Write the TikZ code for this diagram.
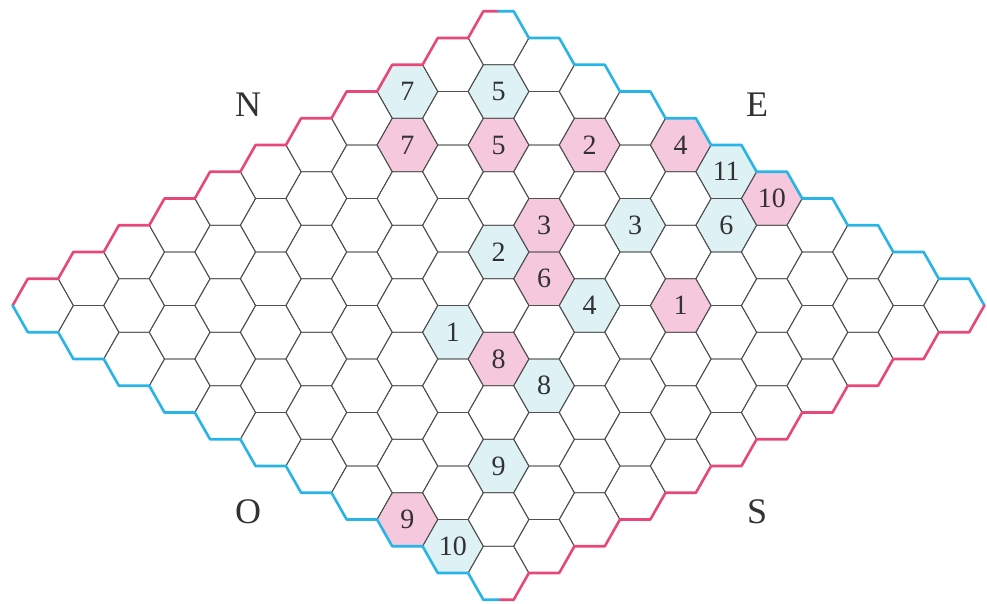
\documentclass[tikz,border=0pt]{standalone}
\usepackage{fontspec}
\setmainfont{Liberation Serif}
\definecolor{pinkB}{RGB}{232,72,120}
\definecolor{blueB}{RGB}{40,180,230}
\definecolor{pinkF}{RGB}{246,200,222}
\definecolor{blueF}{RGB}{222,242,245}
\definecolor{gridC}{RGB}{80,80,80}
\definecolor{txtC}{RGB}{50,50,50}
\begin{document}
\begin{tikzpicture}[x=1pt,y=-1pt,
  gridline/.style={draw=gridC,line width=0.9pt,line join=round},
  pinkedge/.style={draw=pinkB,line width=2.6pt,line join=round,line cap=round},
  blueedge/.style={draw=blueB,line width=2.6pt,line join=round,line cap=round},
  numlab/.style={text=txtC,font=\fontsize{28}{28}\selectfont,inner sep=0pt},
  sidelab/.style={text=txtC,font=\fontsize{36}{36}\selectfont,inner sep=0pt}]
\useasboundingbox (0,0) rectangle (987,604);
% coloured cells (s = i+j, d = j-i)
\foreach \s/\d/\c/\t [count=\k] in {
  8/-8/blueF/7, 10/-8/blueF/5, 15/-5/blueF/11, 15/-3/blueF/6, 13/-3/blueF/3,
  10/-2/blueF/2, 12/0/blueF/4, 9/1/blueF/1, 11/3/blueF/8, 10/6/blueF/9, 9/9/blueF/10,
  8/-6/pinkF/7, 10/-6/pinkF/5, 12/-6/pinkF/2, 14/-6/pinkF/4, 16/-4/pinkF/10,
  11/-3/pinkF/3, 11/-1/pinkF/6, 14/0/pinkF/1, 10/2/pinkF/8, 8/8/pinkF/9}{
  \pgfmathsetmacro\cx{43+45.55*\s}
  \pgfmathsetmacro\cy{305.5+26.75*\d}
  \fill[\c,shift={(\cx,\cy)}] (30.37,0) -- (15.18,-26.75) -- (-15.18,-26.75)
     -- (-30.37,0) -- (-15.18,26.75) -- (15.18,26.75) -- cycle;
  \node[numlab] (lab\k) at (\cx,\cy) {\t};
}
% grid
\foreach \i in {0,...,10}{
  \foreach \j in {0,...,10}{
    \pgfmathsetmacro\cx{43+45.55*(\i+\j)}
    \pgfmathsetmacro\cy{305.5+26.75*(\j-\i)}
    \draw[gridline,shift={(\cx,\cy)}] (30.37,0) -- (15.18,-26.75) -- (-15.18,-26.75)
       -- (-30.37,0) -- (-15.18,26.75) -- (15.18,26.75) -- cycle;
  }
}
% borders
\draw[pinkedge] (12.63,305.5)
  \foreach \i in {0,...,9}{ -- ({43+45.55*\i-15.18},{305.5-26.75*\i-26.75})
                            -- ({43+45.55*\i+15.18},{305.5-26.75*\i-26.75}) }
  -- (483.32,11.25) -- (498.5,11.25);
\draw[blueedge] (498.5,11.25) -- (513.68,11.25) -- (528.87,38)
  \foreach \j in {1,...,10}{ -- ({43+45.55*(10+\j)+15.18},{305.5+26.75*(\j-10)-26.75})
                             -- ({43+45.55*(10+\j)+30.37},{305.5+26.75*(\j-10)}) };
\draw[pinkedge] (984.37,305.5)
  \foreach \i in {10,...,1}{ -- ({43+45.55*(\i+10)+15.18},{305.5+26.75*(10-\i)+26.75})
                             -- ({43+45.55*(\i+10)-15.18},{305.5+26.75*(10-\i)+26.75}) }
  -- (513.68,599.75) -- (498.5,599.75);
\draw[blueedge] (498.5,599.75) -- (483.32,599.75) -- (468.13,573)
  \foreach \j in {9,...,0}{ -- ({43+45.55*\j-15.18},{305.5+26.75*\j+26.75})
                            -- ({43+45.55*\j-30.37},{305.5+26.75*\j}) };
% side labels
\node[sidelab] (north) at (248,105) {N};
\node[sidelab] (east) at (757,105) {E};
\node[sidelab] (west) at (248,512) {O};
\node[sidelab] (south) at (757,512) {S};
\end{tikzpicture}
\end{document}
